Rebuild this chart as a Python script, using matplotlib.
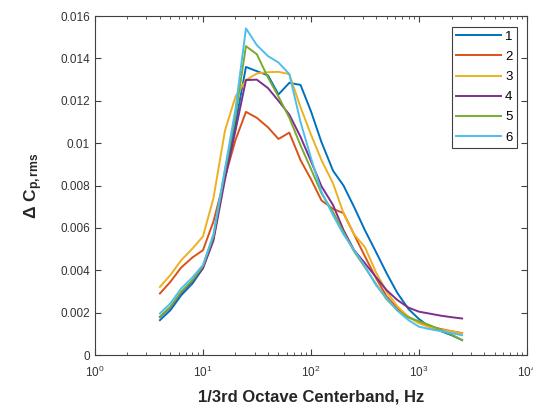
import matplotlib
matplotlib.use("Agg")
import matplotlib.pyplot as plt

plt.rcParams["font.family"] = ["Liberation Sans", "DejaVu Sans"]
plt.rcParams["mathtext.fontset"] = "custom"
plt.rcParams["mathtext.rm"] = "Liberation Sans"
plt.rcParams["mathtext.bf"] = "Liberation Sans:bold"
plt.rcParams["mathtext.it"] = "Liberation Sans:italic"

# 1/3 octave centre bands (Hz)
freqs = [4, 5, 6.3, 8, 10, 12.5, 16, 20, 25, 31.5, 40, 50, 63, 80, 100, 125,
         160, 200, 250, 315, 400, 500, 630, 800, 1000, 1250, 1600, 2000, 2500]

# values in units of 1e-3
run1 = [1.65, 2.12, 2.83, 3.38, 4.1, 5.5, 8.6, 10.9, 13.6, 13.4, 13.2, 12.3, 12.85,
        12.75, 11.5, 10.05, 8.7, 8.0, 7.0, 5.9, 4.86, 3.87, 2.93, 2.17, 1.7, 1.34,
        1.13, 0.94, 0.71]
run2 = [2.91, 3.46, 4.14, 4.61, 4.95, 6.3, 8.4, 10.15, 11.48, 11.2, 10.75, 10.2, 10.5,
        9.2, 8.3, 7.3, 6.9, 6.7, 5.7, 4.67, 3.63, 2.78, 2.2, 1.8, 1.56, 1.37, 1.23,
        1.13, 1.04]
run3 = [3.22, 3.78, 4.48, 5.03, 5.6, 7.4, 10.6, 12.2, 12.98, 13.29, 13.35, 13.37,
        13.26, 11.7, 10.4, 9.2, 8.1, 6.7, 5.7, 5.1, 3.9, 3.0, 2.3, 1.8, 1.5, 1.32,
        1.2, 1.13, 1.02]
run4 = [1.8, 2.25, 2.95, 3.5, 4.1, 5.4, 8.3, 10.6, 12.98, 13.0, 12.6, 12.0, 11.35,
        10.3, 9.15, 7.97, 7.08, 5.9, 4.96, 4.34, 3.68, 3.07, 2.6, 2.24, 2.05, 1.96,
        1.86, 1.79, 1.73]
run5 = [1.81, 2.28, 2.99, 3.54, 4.2, 5.6, 8.7, 11.3, 14.58, 14.2, 13.1, 12.2, 11.2,
        9.9, 8.78, 7.64, 6.75, 5.8, 4.9, 4.15, 3.35, 2.64, 2.12, 1.77, 1.6, 1.42,
        1.18, 0.97, 0.71]
run6 = [1.97, 2.44, 3.15, 3.67, 4.25, 5.7, 8.8, 11.6, 15.42, 14.63, 14.11, 13.81,
        13.26, 11.0, 9.3, 7.7, 6.6, 5.7, 4.96, 4.2, 3.3, 2.7, 2.1, 1.65, 1.34, 1.23,
        1.13, 1.04, 0.94]

runs = [run1, run2, run3, run4, run5, run6]
labels = ["1", "2", "3", "4", "5", "6"]
colors = ["#0072BD", "#D95319", "#EDB120", "#7E2F8E", "#77AC30", "#4DBEEE"]

yticks = [0, 0.002, 0.004, 0.006, 0.008, 0.01, 0.012, 0.014, 0.016]
ytick_labels = ["0", "0.002", "0.004", "0.006", "0.008", "0.01", "0.012", "0.014", "0.016"]

fig = plt.figure(figsize=(5.33, 4.12), dpi=100)
ax = fig.add_axes([0.178, 0.138, 0.811, 0.823])

for vals, lab, col in zip(runs, labels, colors):
    ax.plot(freqs, [v * 1e-3 for v in vals], color=col, lw=1.4, label=lab)

ax.set_xscale("log")
ax.set_xlim(1, 1e4)
ax.set_ylim(0, 0.016)
ax.set_yticks(yticks)
ax.set_yticklabels(ytick_labels)

axis_col = "#404040"
for sp in ax.spines.values():
    sp.set_color(axis_col)
    sp.set_linewidth(0.8)
ax.tick_params(which="both", direction="in", top=True, right=True,
               colors=axis_col, labelsize=8.5, labelcolor="#333333")
ax.tick_params(which="major", length=4)
ax.tick_params(which="minor", length=2)
ax.tick_params(axis="x", which="major", pad=7)

ax.set_xlabel("1/3rd Octave Centerband, Hz", fontsize=12, fontweight="bold",
              color="#262626", labelpad=7)
ax.set_ylabel(r"$\mathbf{\Delta\ C_{p,rms}}$", fontsize=12.5, color="#262626",
              labelpad=11)

leg = ax.legend(loc="upper right", fontsize=9.5, handlelength=3.4, handletextpad=0.3,
                labelspacing=0.6, borderpad=0.3, borderaxespad=0.8,
                fancybox=False, framealpha=1)
leg.get_frame().set_edgecolor("#404040")
leg.get_frame().set_linewidth(0.8)

fig.savefig("out.png", dpi=100)
